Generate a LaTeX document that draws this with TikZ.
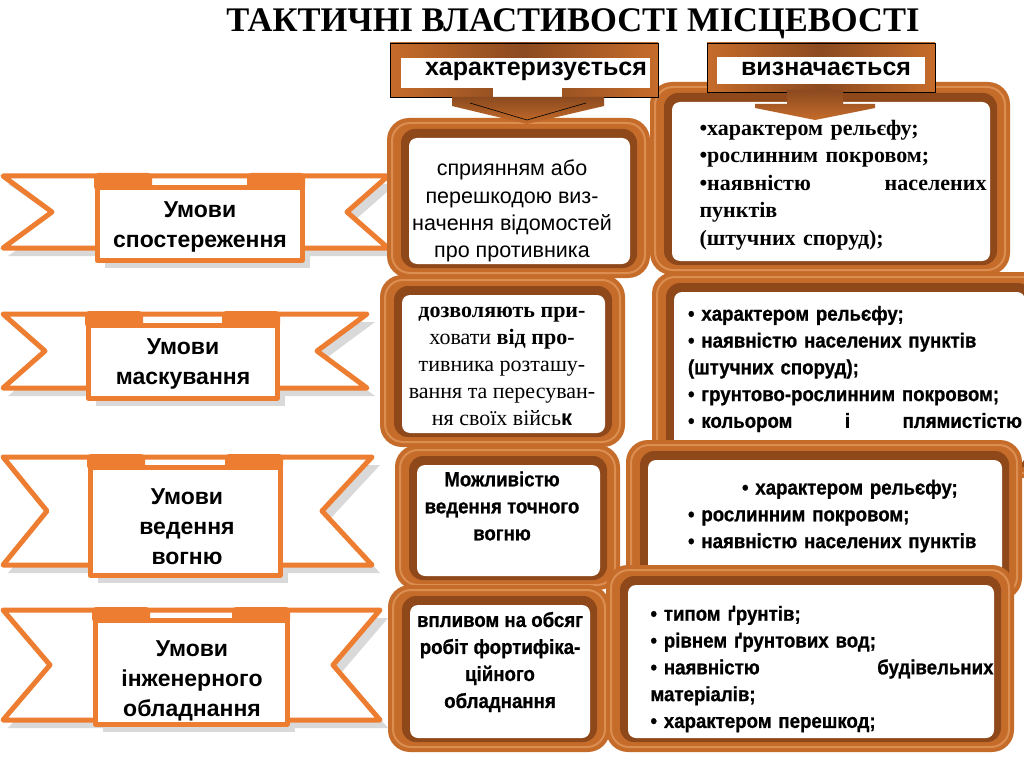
\documentclass[tikz,border=0pt]{standalone}
\usepackage{fontspec}
\setmainfont{Liberation Serif}
\setsansfont{Liberation Sans}
\newfontfamily\narrowbf[FakeStretch=0.91,FakeBold=0.8]{Liberation Sans Bold}
\definecolor{ribor}{HTML}{ED7D31}
\definecolor{ribsh}{HTML}{D9D9D9}
\definecolor{frA}{HTML}{C66C2B}
\definecolor{frB}{HTML}{8E481A}
\definecolor{frH}{HTML}{DC8D50}
\definecolor{tabD}{HTML}{8B4A1F}
\newcommand\ribbonshape[9]{%
 \fill[ribsh] (8,{#1+8}) -- ({#4+8},{#1+8}) -- ({#5+8},{(#1+#2)/2+8}) -- ({#4+8},{#2+8}) -- (8,{#2+8}) -- ({#3+8},{(#1+#2)/2+8}) -- cycle;
 \fill[ribsh] ({#6+8},{#8+8}) rectangle ({#7+8},{#9+8});
 \draw[ribline, fill=white] (3,#1) -- (#4,#1) -- (#5,{(#1+#2)/2}) -- (#4,#2) -- (3,#2) -- (#3,{(#1+#2)/2}) -- cycle;
 \fill[ribor, rounded corners=4] ({#6-3},{#1-3}) rectangle ({#6+55},{#8+3});
 \fill[ribor, rounded corners=4] ({#7-55},{#1-3}) rectangle ({#7+3},{#8+3});
 \draw[ribline, fill=white] (#6,#8) rectangle (#7,#9);
}
\newcommand\bevelframe[4]{%
 \fill[frA, rounded corners=22] (#1,#2) rectangle (#3,#4);
 \draw[frH, line width=2, rounded corners=18] ({#1+5},{#2+5}) rectangle ({#3-5},{#4-5});
 \fill[frB, rounded corners=14] ({#1+14},{#2+11}) rectangle ({#3-13},{#4-10});
 \fill[white, rounded corners=8] ({#1+22},{#2+20}) rectangle ({#3-20},{#4-14});
}
\begin{document}
\begin{tikzpicture}[x=1pt,y=-1pt,
  ribline/.style={draw=ribor, line width=5, line join=round},
  ribtext/.style={font=\sffamily\bfseries\fontsize{23}{30}\selectfont, align=center, inner sep=0},
  tabtext/.style={font=\sffamily\bfseries\fontsize{25}{28}\selectfont, inner sep=0},
  midsans/.style={font=\sffamily\fontsize{21.5}{27.3}\selectfont, align=center, inner sep=0},
  midserif/.style={font=\rmfamily\fontsize{22}{27}\selectfont, align=center, inner sep=0},
  midnarrow/.style={font=\narrowbf\fontsize{20.5}{27}\selectfont, align=center, inner sep=0},
  rightserif/.style={font=\rmfamily\bfseries\fontsize{22}{27.5}\selectfont, align=left, inner sep=0},
  rightnarrow/.style={font=\narrowbf\fontsize{20.5}{26.8}\selectfont, align=left, inner sep=0},
  tabshade/.style={left color=frA, right color=frA, middle color=tabD},
  chevshade/.style={top color=tabD, bottom color=frA}]
\useasboundingbox (0,0) rectangle (1024,767);
\fill[white] (0,0) rectangle (1024,767);

% ribbons
\ribbonshape{176}{248}{52}{388}{347}{97}{302}{188}{260}
\node[ribtext] (r1) at (200,227) {Умови\\спостереження};

\ribbonshape{314}{388}{45}{367}{317}{88}{277}{325}{398}
\node[ribtext] (r2) at (183,364) {Умови\\маскування};

\ribbonshape{457}{565}{47}{372}{322}{90}{280}{467}{575}
\node[ribtext] (r3) at (187,527) {Умови\\ведення\\вогню};

\ribbonshape{610}{720}{50}{380}{333}{95}{287}{620}{724}
\node[ribtext] (r4) at (192,681) {Умови\\інженерного\\обладнання};

% row 1
\bevelframe{387}{118}{650}{278}
\node[midsans] (m1) at (512,211) {сприянням або\\перешкодою виз-\\начення відомостей\\про противника};
\bevelframe{650}{82}{1010}{275}
\node[rightserif, text width=287] (b1) at (843,185) {•характером рельєфу;\\•рослинним покровом;\\•наявністю\hfill населених\\пунктів\\(штучних споруд);};

% row 2
\bevelframe{380}{275}{625}{447}
\node[midserif] (m2) at (502,366) {{\bfseries дозволяють при-}\\ховати {\bfseries від про-}\\тивника розташу-\\вання та пересуван-\\ня своїх війсь{\sffamily\bfseries к}};
\bevelframe{652}{272}{1045}{478}
\node[rightnarrow, text width=334] (b2) at (855,369) {• характером рельєфу;\\• наявністю населених пунктів\\(штучних споруд);\\• грунтово-рослинним покровом;\\• кольором\hfill і\hfill плямистістю};

% row 3
\bevelframe{395}{445}{620}{590}
\node[midnarrow] (m3) at (502,506) {Можливістю\\ведення точного\\вогню};
\bevelframe{626}{440}{1022}{600}
\node[rightnarrow, text width=310] (b3) at (843,516) {\hspace*{54pt}• характером рельєфу;\\• рослинним покровом;\\• наявністю населених пунктів};

% row 4
\bevelframe{388}{585}{610}{752}
\node[midnarrow] (m4) at (500,662) {впливом на обсяг\\робіт фортифіка-\\ційного\\обладнання};
\bevelframe{606}{565}{1014}{752}
\node[rightnarrow, text width=343] (b4) at (822,669) {• типом ґрунтів;\\• рівнем ґрунтових вод;\\• наявністю\hfill будівельних\\матеріалів;\\• характером перешкод;};

% header tab 1
\shade[tabshade] (390,43) rectangle (658,97);
\draw[black, line width=0.6] (390,43) rectangle (658,97);
\fill[white] (401,58) rectangle (650,88);
\fill[white] (493,88) rectangle (562,98);
\node[tabtext] (t1) at (536,71) {характеризується};
\shade[chevshade] (452,97) -- (604,97) -- (604,106) -- (527,124) -- (452,106) -- cycle;
\draw[black, line width=0.6] (470,103) -- (527,120) -- (586,103);

% header tab 2
\shade[tabshade] (707,43) rectangle (935,92);
\draw[black, line width=0.6] (707,43) rectangle (935,92);
\fill[white] (717,57) rectangle (925,84);
\node[tabtext] (t2) at (826,69) {визначається};
\shade[chevshade] (787,90) -- (843,90) -- (843,104) -- (875,104) -- (875,108) -- (815,120) -- (755,108) -- (755,104) -- (787,104) -- cycle;

% title
\node[font=\rmfamily\bfseries\fontsize{34.5}{38}\selectfont, inner sep=0] (title) at (573,24) {ТАКТИЧНІ ВЛАСТИВОСТІ МІСЦЕВОСТІ};
\end{tikzpicture}
\end{document}
